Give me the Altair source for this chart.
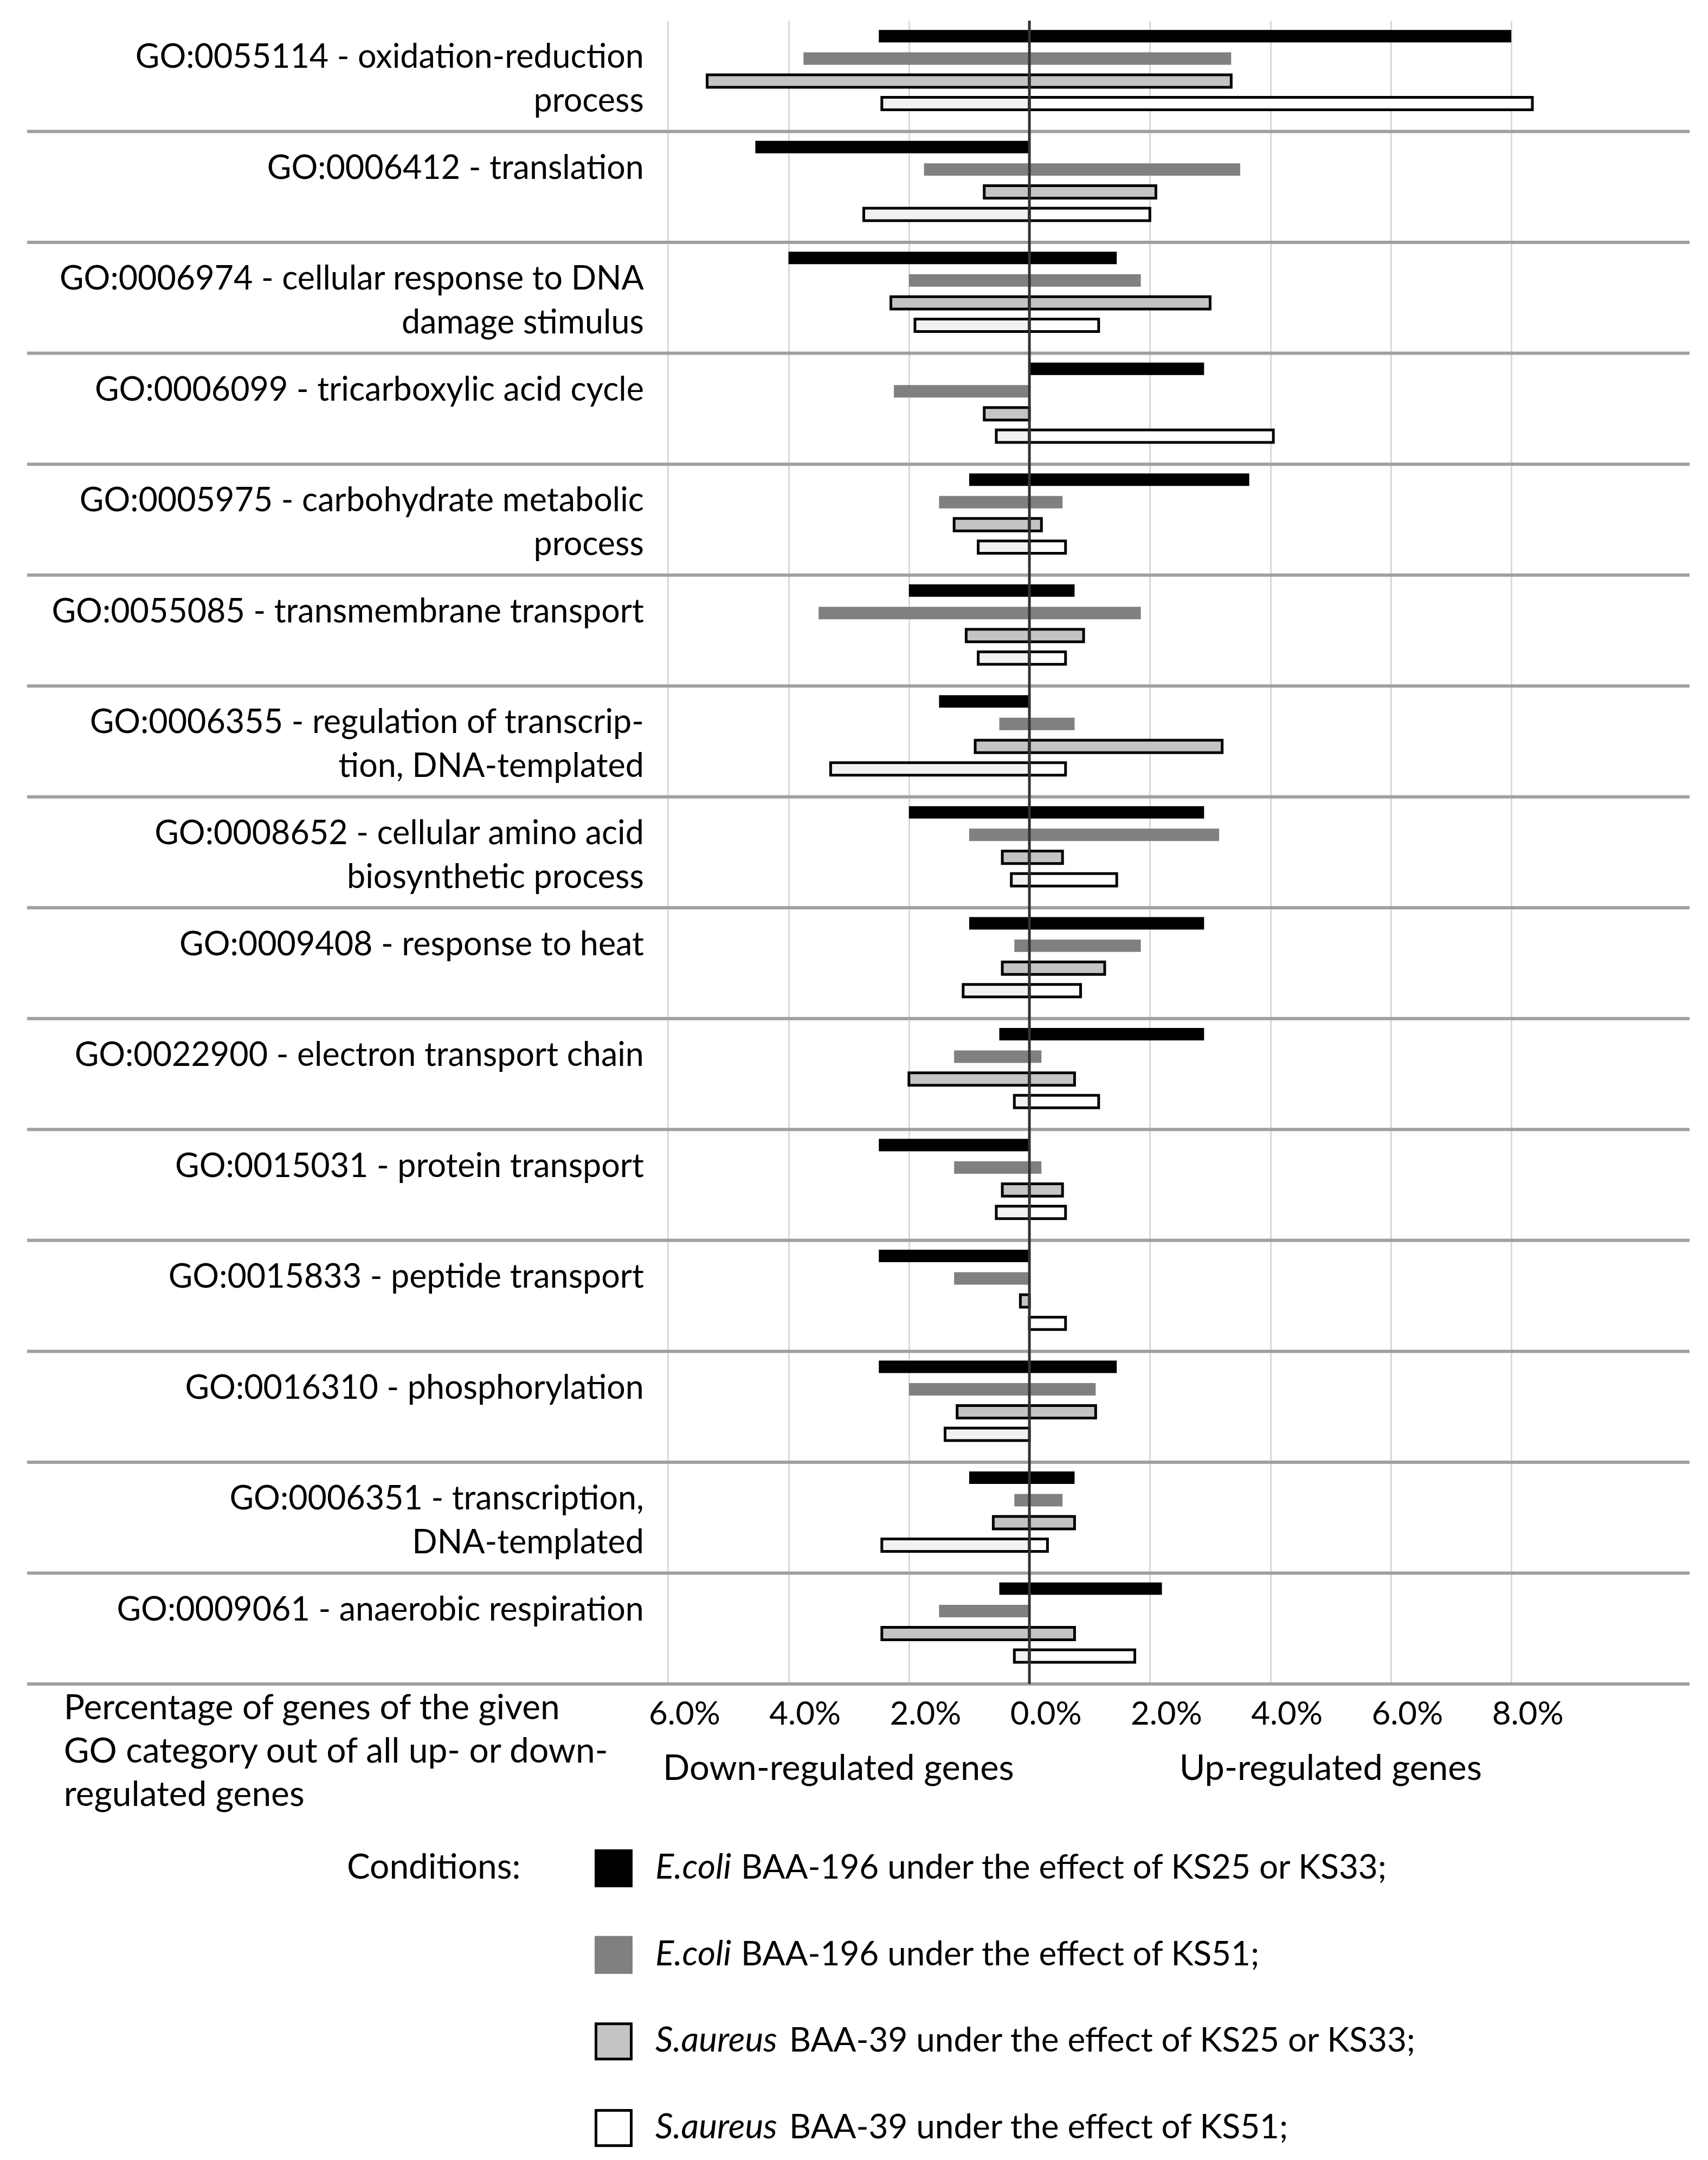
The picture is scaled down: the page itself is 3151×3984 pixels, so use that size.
import altair as alt
import pandas as pd

# ---------------- data ----------------
categories = [
    "GO:0055114", "GO:0006412", "GO:0006974", "GO:0006099", "GO:0005975",
    "GO:0055085", "GO:0006355", "GO:0008652", "GO:0009408", "GO:0022900",
    "GO:0015031", "GO:0015833", "GO:0016310", "GO:0006351", "GO:0009061",
]
label_lines = [
    ["GO:0055114 - oxidation-reduction", "process"],
    ["GO:0006412 - translation"],
    ["GO:0006974 - cellular response to DNA", "damage stimulus"],
    ["GO:0006099 - tricarboxylic acid cycle"],
    ["GO:0005975 - carbohydrate metabolic", "process"],
    ["GO:0055085 - transmembrane transport"],
    ["GO:0006355 - regulation of transcrip-", "tion, DNA-templated"],
    ["GO:0008652 - cellular amino acid", "biosynthetic process"],
    ["GO:0009408 - response to heat"],
    ["GO:0022900 - electron transport chain"],
    ["GO:0015031 - protein transport"],
    ["GO:0015833 - peptide transport"],
    ["GO:0016310 - phosphorylation"],
    ["GO:0006351 - transcription,", "DNA-templated"],
    ["GO:0009061 - anaerobic respiration"],
]

conds = ["c1", "c2", "c3", "c4"]
cond_species = ["E.coli", "E.coli", "S.aureus", "S.aureus"]
cond_rest = [
    "BAA-196 under the effect of KS25 or KS33;",
    "BAA-196 under the effect of KS51;",
    "BAA-39 under the effect of KS25 or KS33;",
    "BAA-39 under the effect of KS51;",
]

# percentage of down-regulated (negative) and up-regulated (positive) genes
down_c1 = [-2.5, -4.55, -4.0, 0.0, -1.0, -2.0, -1.5, -2.0, -1.0, -0.5, -2.5, -2.5, -2.5, -1.0, -0.5]
up_c1 = [8.0, 0.0, 1.45, 2.9, 3.65, 0.75, 0.0, 2.9, 2.9, 2.9, 0.0, 0.0, 1.45, 0.75, 2.2]
down_c2 = [-3.75, -1.75, -2.0, -2.25, -1.5, -3.5, -0.5, -1.0, -0.25, -1.25, -1.25, -1.25, -2.0, -0.25, -1.5]
up_c2 = [3.35, 3.5, 1.85, 0.0, 0.55, 1.85, 0.75, 3.15, 1.85, 0.2, 0.2, 0.0, 1.1, 0.55, 0.0]
down_c3 = [-5.35, -0.75, -2.3, -0.75, -1.25, -1.05, -0.9, -0.45, -0.45, -2.0, -0.45, -0.15, -1.2, -0.6, -2.45]
up_c3 = [3.35, 2.1, 3.0, 0.0, 0.2, 0.9, 3.2, 0.55, 1.25, 0.75, 0.55, 0.0, 1.1, 0.75, 0.75]
down_c4 = [-2.45, -2.75, -1.9, -0.55, -0.85, -0.85, -3.3, -0.3, -1.1, -0.25, -0.55, 0.0, -1.4, -2.45, -0.25]
up_c4 = [8.35, 2.0, 1.15, 4.05, 0.6, 0.6, 0.6, 1.45, 0.85, 1.15, 0.6, 0.6, 0.0, 0.3, 1.75]

tick_values = [-6, -4, -2, 0, 2, 4, 6, 8]
pct_lines = ["Percentage of genes of the given", "GO category out of all up- or down-", "regulated genes"]

# ---------------- tables ----------------
downs = {"c1": down_c1, "c2": down_c2, "c3": down_c3, "c4": down_c4}
ups = {"c1": up_c1, "c2": up_c2, "c3": up_c3, "c4": up_c4}
rows = []
for c in conds:
    for i, cat in enumerate(categories):
        if downs[c][i] != 0:
            rows.append({"cat": cat, "cond": c, "key": c + "d", "start": downs[c][i], "end": 0.0})
        if ups[c][i] != 0:
            rows.append({"cat": cat, "cond": c, "key": c + "u", "start": 0.0, "end": ups[c][i]})
bars = pd.DataFrame(rows)
cat_df = pd.DataFrame({"cat": categories, "lines": label_lines})
legend_df = pd.DataFrame({"cond": conds, "key": [c + "u" for c in conds],
                          "species": cond_species, "rest": cond_rest})

FONT = "Lato"

x_scale = alt.Scale(domain=[-16.64, 10.96], nice=False, zero=False)
y_scale = alt.Scale(domain=categories, paddingInner=0, paddingOuter=0)
Y = alt.Y("cat:N", sort=categories, scale=y_scale, axis=None)

fill_keys = ["c1d", "c1u", "c2d", "c2u", "c3d", "c3u", "c4d", "c4u"]
fill_cols = ["#000000", "#000000", "#808080", "#808080", "#c4c4c4", "#c4c4c4", "#f2f2f2", "#ffffff"]
fill_scale = alt.Scale(domain=fill_keys, range=fill_cols)

x_axis = alt.Axis(
    values=tick_values, labelExpr="format(abs(datum.value), '.1f') + '%'",
    grid=True, gridColor="#d9d9d9", gridWidth=3, ticks=False, domain=False,
    labelFont=FONT, labelFontSize=60, labelColor="black", labelPadding=27,
    labelOffset=30, labelOverlap=False, labelFlush=False, title=None,
)

base_bar = alt.Chart(bars).encode(
    x=alt.X("start:Q", scale=x_scale, axis=x_axis),
    x2="end:Q",
    y=Y,
    yOffset=alt.YOffset("cond:N", sort=conds,
                        scale=alt.Scale(domain=conds, paddingInner=0.446, paddingOuter=0.69, align=0.3)),
    fill=alt.Fill("key:N", scale=fill_scale, legend=None),
)
bars_plain = base_bar.mark_bar(strokeWidth=0).transform_filter(
    alt.FieldOneOfPredicate(field="cond", oneOf=["c1", "c2"]))
bars_outline = base_bar.mark_bar(stroke="black", strokeWidth=5).transform_filter(
    alt.FieldOneOfPredicate(field="cond", oneOf=["c3", "c4"]))

separators = alt.Chart(cat_df).mark_rule(color="#a0a0a0", strokeWidth=6).encode(
    y=alt.Y("cat:N", sort=categories, scale=y_scale, axis=None, bandPosition=1)
)

zero_rule = alt.Chart(pd.DataFrame({"v": [0.0]})).mark_rule(color="#333333", strokeWidth=5).encode(
    x=alt.X("v:Q", scale=x_scale)
)

labels = alt.Chart(cat_df).mark_text(
    align="right", baseline="top", dy=-63, font=FONT, fontSize=61, lineHeight=81, color="black"
).encode(x=alt.datum(-6.4), y=Y, text="lines")

pct_text = alt.Chart(pd.DataFrame({"t": [pct_lines]})).mark_text(
    align="left", baseline="alphabetic", font=FONT, fontSize=64, lineHeight=80, color="black"
).encode(x=alt.datum(-16.03), y=alt.value(3133), text="t")

down_text = alt.Chart(pd.DataFrame({"t": ["Down-regulated genes"]})).mark_text(
    align="center", baseline="alphabetic", font=FONT, fontSize=65, color="black"
).encode(x=alt.datum(-3.17), y=alt.value(3245), text="t")

up_text = alt.Chart(pd.DataFrame({"t": ["Up-regulated genes"]})).mark_text(
    align="center", baseline="alphabetic", font=FONT, fontSize=65, color="black"
).encode(x=alt.datum(5.0), y=alt.value(3245), text="t")

main = alt.layer(
    separators, bars_plain, bars_outline, zero_rule, labels, pct_text, down_text, up_text
).properties(width=3067, height=3068)

# ---------------- legend ----------------
LY = alt.Y("cond:N", sort=conds, scale=alt.Scale(type="point", domain=conds, padding=0), axis=None)

leg_base = alt.Chart(legend_df).encode(
    y=LY, x=alt.value(1082),
    fill=alt.Fill("key:N", scale=fill_scale, legend=None),
)
leg_sq_plain = leg_base.mark_square(size=4900, strokeWidth=0, opacity=1).transform_filter(
    alt.FieldOneOfPredicate(field="cond", oneOf=["c1", "c2"]))
leg_sq_outline = leg_base.mark_square(size=4225, stroke="black", strokeWidth=5, opacity=1).transform_filter(
    alt.FieldOneOfPredicate(field="cond", oneOf=["c3", "c4"]))

leg_species = alt.Chart(legend_df).mark_text(
    align="left", baseline="middle", font=FONT, fontSize=64, fontStyle="italic", color="black"
).encode(y=LY, x=alt.value(1159), text="species")
leg_rest_e = alt.Chart(legend_df).mark_text(
    align="left", baseline="middle", font=FONT, fontSize=62, color="black"
).encode(y=LY, x=alt.value(1317), text="rest").transform_filter(alt.datum.species == "E.coli")
leg_rest_s = alt.Chart(legend_df).mark_text(
    align="left", baseline="middle", font=FONT, fontSize=62, color="black"
).encode(y=LY, x=alt.value(1406), text="rest").transform_filter(alt.datum.species == "S.aureus")
leg_title = alt.Chart(pd.DataFrame({"t": ["Conditions:"]})).mark_text(
    align="left", baseline="middle", font=FONT, fontSize=64, color="black"
).encode(y=alt.datum("c1"), x=alt.value(590), text="t")

legend = alt.layer(
    leg_sq_plain, leg_sq_outline, leg_species, leg_rest_e, leg_rest_s, leg_title
).properties(width=3067, height=479)

chart = alt.vconcat(main, legend, spacing=340, bounds="flush").properties(
    padding={"left": 39, "top": 27, "right": 10, "bottom": 10}
).configure(font=FONT, view=alt.ViewConfig(strokeWidth=0))

chart.save("out.html", embed_options={"renderer": "svg", "actions": False})
